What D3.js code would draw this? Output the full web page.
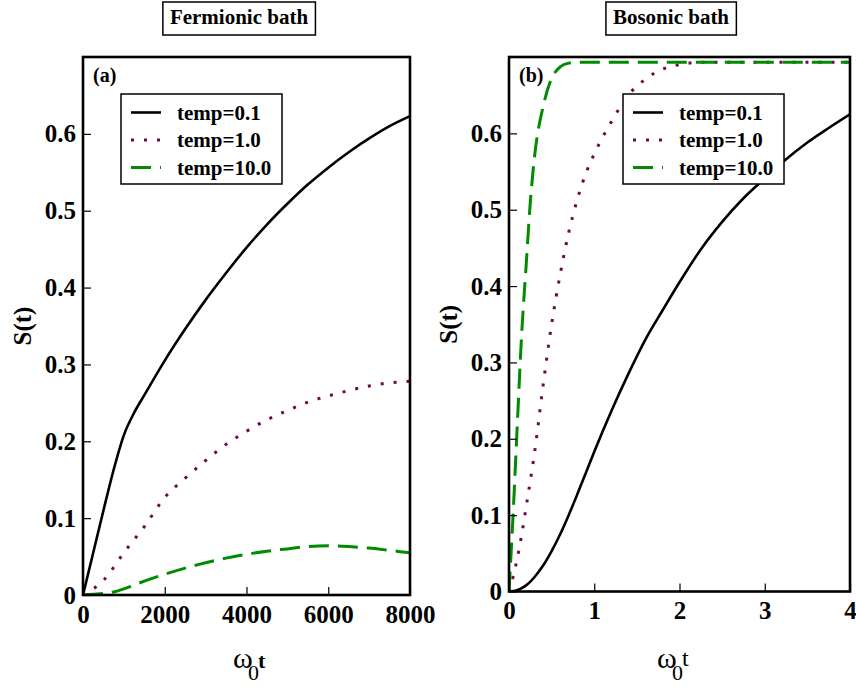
<!DOCTYPE html>
<html>
<head>
<meta charset="utf-8">
<script src="https://cdn.jsdelivr.net/npm/d3@7"></script>
<style>
body { margin: 0; background: #ffffff; }
svg { display: block; }
</style>
</head>
<body>
<div id="chart"></div>
<script>
// Fermionic bath, time in units of 1/omega_0
const fermiTime = [0, 250, 500, 750, 1000, 1250, 1500, 2000, 2500, 3000, 3500, 4000, 4500, 5000, 5500, 6000, 6500, 7000, 7500, 8000];
const fermiTemp01 = [0, 0.055, 0.11, 0.163, 0.208, 0.237, 0.26, 0.305, 0.346, 0.384, 0.419, 0.452, 0.482, 0.509, 0.534, 0.556, 0.576, 0.594, 0.61, 0.623];
const fermiTemp1 = [0, 0.008, 0.019, 0.036, 0.055, 0.072, 0.089, 0.127, 0.152, 0.175, 0.196, 0.213, 0.228, 0.24, 0.251, 0.259, 0.266, 0.272, 0.276, 0.278];
const fermiTemp10 = [0, 0.001, 0.002, 0.004, 0.008, 0.013, 0.018, 0.027, 0.035, 0.042, 0.048, 0.053, 0.057, 0.06, 0.063, 0.064, 0.063, 0.061, 0.058, 0.055];

// Bosonic bath
const boseTime = [0, 0.05, 0.1, 0.15, 0.2, 0.25, 0.3, 0.4, 0.5, 0.6, 0.7, 0.8, 0.9, 1.0, 1.2, 1.4, 1.6, 1.8, 2.0, 2.25, 2.5, 2.75, 3.0, 3.25, 3.5, 3.75, 4.0];
const boseTemp01 = [0, 0.0005, 0.002, 0.0045, 0.008, 0.013, 0.019, 0.034, 0.053, 0.075, 0.1, 0.127, 0.155, 0.183, 0.236, 0.285, 0.33, 0.368, 0.405, 0.448, 0.484, 0.515, 0.541, 0.566, 0.588, 0.607, 0.625];
const boseTemp1 = [0, 0.02, 0.045, 0.075, 0.11, 0.145, 0.182, 0.27, 0.35, 0.415, 0.47, 0.513, 0.547, 0.573, 0.615, 0.65, 0.671, 0.684, 0.69, 0.693, 0.693, 0.693, 0.693, 0.693, 0.693, 0.693, 0.693];
const boseTemp10 = [0, 0.105, 0.225, 0.34, 0.425, 0.51, 0.57, 0.635, 0.672, 0.687, 0.692, 0.693, 0.693, 0.693, 0.693, 0.693, 0.693, 0.693, 0.693, 0.693, 0.693, 0.693, 0.693, 0.693, 0.693, 0.693, 0.693];

const tempLabels = ["temp=0.1", "temp=1.0", "temp=10.0"];
const panelTitles = ["Fermionic bath", "Bosonic bath"];
const panelTags = ["(a)", "(b)"];
const fermiTicks = [0, 2000, 4000, 6000, 8000];
const boseTicks = [0, 1, 2, 3, 4];
const yTicks = [0, 0.1, 0.2, 0.3, 0.4, 0.5, 0.6];

const styles = [
    {color: "#000000", width: 2.6, dash: null},
    {color: "#6a0a4a", width: 3, dash: "3,10"},
    {color: "#008b00", width: 3, dash: "20,9"}
];

const serif = "'Liberation Serif', 'Times New Roman', serif";

const svg = d3.select("#chart").append("svg")
    .attr("width", 856)
    .attr("height", 688);

function drawPanel(p) {
    const x = d3.scaleLinear().domain(p.xDomain).range([p.left, p.right]);
    const y = d3.scaleLinear().domain([0, 0.7]).range([p.bottom, p.top]);

    const g = svg.append("g");

    // title box
    const title = g.append("text")
        .attr("x", p.titleX)
        .attr("y", 24)
        .attr("text-anchor", "middle")
        .attr("font-family", serif)
        .attr("font-weight", "bold")
        .attr("font-size", 21)
        .text(p.title);
    const bb = title.node().getBBox();
    g.insert("rect", "text")
        .attr("x", bb.x - 7)
        .attr("y", 2)
        .attr("width", bb.width + 14)
        .attr("height", 33)
        .attr("fill", "#fff")
        .attr("stroke", "#000")
        .attr("stroke-width", 1.5);

    g.append("clipPath")
        .attr("id", "clip" + p.id)
        .append("rect")
        .attr("x", p.left).attr("y", p.top)
        .attr("width", p.right - p.left).attr("height", p.bottom - p.top);

    const line = d3.line()
        .x(d => x(d[0]))
        .y(d => y(d[1]))
        .curve(d3.curveMonotoneX);

    p.series.forEach(function(s, i) {
        g.append("path")
            .datum(p.time.map((t, j) => [t, s[j]]))
            .attr("clip-path", "url(#clip" + p.id + ")")
            .attr("fill", "none")
            .attr("stroke", styles[i].color)
            .attr("stroke-width", styles[i].width)
            .attr("stroke-dasharray", styles[i].dash)
            .attr("d", line);
    });

    // axes with inward ticks
    const yFmt = d => d === 0 ? "0" : d3.format(".1f")(d);
    const ax = g.append("g")
        .attr("transform", `translate(0,${p.bottom})`)
        .call(d3.axisBottom(x).tickValues(p.xTicks).tickFormat(d3.format("d")).tickSize(-8).tickPadding(10));
    const ay = g.append("g")
        .attr("transform", `translate(${p.left},0)`)
        .call(d3.axisLeft(y).tickValues(yTicks).tickFormat(yFmt).tickSize(-8).tickPadding(7));
    [ax, ay].forEach(function(a) {
        a.select(".domain").remove();
        a.selectAll("line").attr("stroke", "#000").attr("stroke-width", 1.2);
        a.selectAll("text")
            .attr("fill", "#000")
            .attr("font-family", serif)
            .attr("font-weight", "bold")
            .attr("font-size", 25);
    });

    // legend
    const lg = g.append("g");
    lg.append("rect")
        .attr("x", p.legendX)
        .attr("y", 94)
        .attr("width", 161)
        .attr("height", 90)
        .attr("fill", "#fff")
        .attr("stroke", "#000")
        .attr("stroke-width", 1.5);
    tempLabels.forEach(function(lab, i) {
        const ly = 112.5 + i * 27.5;
        lg.append("line")
            .attr("x1", p.legendX + 10).attr("x2", p.legendX + 40)
            .attr("y1", ly).attr("y2", ly)
            .attr("stroke", styles[i].color)
            .attr("stroke-width", styles[i].width)
            .attr("stroke-dasharray", styles[i].dash);
        lg.append("text")
            .attr("x", p.legendX + 56)
            .attr("y", ly + 7)
            .attr("font-family", serif)
            .attr("font-weight", "bold")
            .attr("font-size", 21)
            .text(lab);
    });

    // frame
    g.append("rect")
        .attr("x", p.left).attr("y", p.top)
        .attr("width", p.right - p.left).attr("height", p.bottom - p.top)
        .attr("fill", "none")
        .attr("stroke", "#000")
        .attr("stroke-width", 2.6);

    g.append("text")
        .attr("x", p.left + 10)
        .attr("y", p.top + 25)
        .attr("font-family", serif)
        .attr("font-weight", "bold")
        .attr("font-size", 20)
        .text(p.tag);

    g.append("text")
        .attr("transform", `translate(${p.left - 52},${(p.top + p.bottom) / 2}) rotate(-90)`)
        .attr("text-anchor", "middle")
        .attr("font-family", serif)
        .attr("font-weight", "bold")
        .attr("font-size", 25)
        .text("S(t)");

    // omega_0 t label
    const xl = g.append("text").attr("font-family", serif);
    xl.append("tspan")
        .attr("x", p.omegaX).attr("y", 668)
        .attr("font-size", 30)
        .text("ω");
    xl.append("tspan")
        .attr("x", p.omegaX + 15).attr("y", 680)
        .attr("font-size", 22)
        .text("0");
    xl.append("tspan")
        .attr("x", p.omegaX + p.tDx).attr("y", p.tY)
        .attr("font-size", p.tBold ? 22 : 24)
        .attr("font-weight", p.tBold ? "bold" : "normal")
        .text("t");
}

drawPanel({
    id: "a", left: 83, right: 410, top: 57, bottom: 595,
    xDomain: [0, 8000], xTicks: fermiTicks, time: fermiTime,
    series: [fermiTemp01, fermiTemp1, fermiTemp10],
    title: panelTitles[0], titleX: 239, tag: panelTags[0],
    legendX: 121, omegaX: 233, tDx: 25, tY: 668, tBold: true
});

drawPanel({
    id: "b", left: 509, right: 850, top: 57, bottom: 591.5,
    xDomain: [0, 4], xTicks: boseTicks, time: boseTime,
    series: [boseTemp01, boseTemp1, boseTemp10],
    title: panelTitles[1], titleX: 671, tag: panelTags[1],
    legendX: 623, omegaX: 657, tDx: 25, tY: 666, tBold: false
});
</script>
</body>
</html>
